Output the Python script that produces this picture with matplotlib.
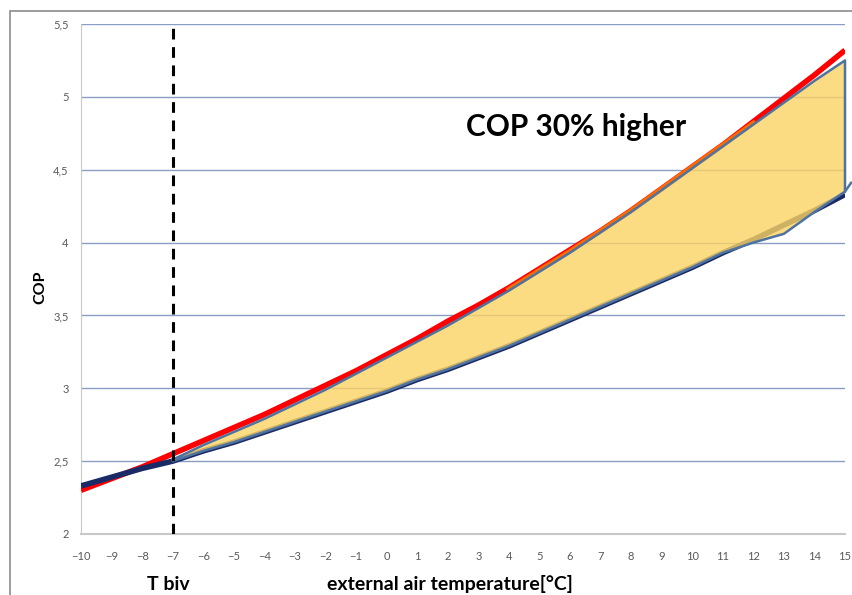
import numpy as np
import matplotlib.pyplot as plt
from matplotlib.patches import Polygon, Rectangle

# outdoor temperature (deg C) and COP curves
temps = list(range(-10, 16))
cop_red = [2.30, 2.38, 2.46, 2.55, 2.64, 2.73, 2.82, 2.92, 3.02, 3.12, 3.23, 3.34,
           3.46, 3.57, 3.69, 3.82, 3.95, 4.08, 4.22, 4.37, 4.52, 4.67, 4.83, 4.99,
           5.15, 5.32]
cop_blue = [2.33, 2.39, 2.45, 2.50, 2.57, 2.63, 2.70, 2.77, 2.84, 2.91, 2.98, 3.06,
            3.13, 3.21, 3.29, 3.38, 3.47, 3.56, 3.65, 3.74, 3.83, 3.93, 4.02, 4.12,
            4.22, 4.33]

# shaded "30% higher" area, from T biv to 15 deg C
area_temps = list(range(-7, 16))
area_top = [2.51, 2.61, 2.70, 2.79, 2.89, 2.99, 3.10, 3.21, 3.32, 3.43, 3.55, 3.67,
            3.80, 3.93, 4.07, 4.21, 4.36, 4.51, 4.66, 4.81, 4.96, 5.11, 5.25]
area_bottom = [2.50, 2.57, 2.63, 2.70, 2.77, 2.84, 2.91, 2.98, 3.06, 3.13, 3.21, 3.29,
               3.38, 3.47, 3.56, 3.65, 3.74, 3.83, 3.93, 4.00, 4.06, 4.21, 4.35]

# orange series showing between red and the shaded area
orange_temps = list(range(4, 13))
orange_cop = [3.68, 3.81, 3.94, 4.08, 4.22, 4.37, 4.52, 4.67, 4.82]

t_biv = -7
yticks = [2, 2.5, 3, 3.5, 4, 4.5, 5, 5.5]
ytick_labels = ["2", "2,5", "3", "3,5", "4", "4,5", "5", "5,5"]

plt.rcParams['font.family'] = ['Lato', 'DejaVu Sans']

fig = plt.figure(figsize=(8.53, 5.95), dpi=100)
ax = fig.add_axes([81 / 853, 1 - 534 / 595, 764 / 853, 510 / 595])

# outer chart frame
fig.patches.append(Rectangle((10 / 853, -0.1), 1.2, 1.1 - 11 / 595,
                             transform=fig.transFigure, fill=False,
                             edgecolor='#8c8c8c', linewidth=1.2))

ax.set_xlim(-10, 15)
ax.set_ylim(2, 5.5)
ax.set_yticks(yticks)
ax.set_yticklabels(ytick_labels)
ax.set_xticks(temps)
ax.tick_params(length=0, labelsize=8, labelcolor='#595959')
ax.tick_params(axis='x', pad=12)
ax.tick_params(axis='y', pad=9)
ax.grid(axis='y', color='#8a9dc4', linewidth=1)
ax.set_axisbelow(True)
for s in ['top', 'right']:
    ax.spines[s].set_visible(False)
ax.spines['left'].set_color('#c8c8c8')
ax.spines['bottom'].set_color('#c8c8c8')
ax.spines['bottom'].set_linewidth(1.5)

ax.plot(temps, cop_red, color='#ff0000', linewidth=4, solid_capstyle='butt', zorder=3)
ax.plot(temps, cop_blue, color='#1a2a66', linewidth=4, solid_capstyle='butt', zorder=3)
ax.plot(orange_temps, orange_cop, color='#ff6a00', linewidth=3.5, zorder=3)

pts = list(zip(area_temps, area_top)) + list(zip(area_temps[::-1], area_bottom[::-1]))
ax.add_patch(Polygon(pts, closed=True, facecolor='#fcd463', alpha=0.8,
                     edgecolor='none', zorder=4))
ax.add_patch(Polygon(pts, closed=True, facecolor='none', edgecolor='#4f73a0',
                     linewidth=1.8, joinstyle='round', zorder=5, clip_on=False))
ax.plot([15, 15.2], [area_bottom[-1], 4.41], color='#4f73a0', linewidth=1.8,
        zorder=5, clip_on=False)

ax.axvline(t_biv, color='black', linestyle=(0, (3.5, 2.5)), linewidth=2.2, zorder=6)

ax.text(6.2, 4.79, "COP 30% higher", fontsize=21.5, fontweight='bold',
        ha='center', va='center')

fig.text(40 / 853, 1 - 287 / 595, "COP", rotation=90, fontsize=11.5,
         fontweight='bold', ha='center', va='center')
fig.text(168 / 853, 1 - 584 / 595, "T biv", fontsize=14, fontweight='bold',
         ha='center', va='center')
fig.text(450 / 853, 1 - 584 / 595, "external air temperature[°C]", fontsize=14,
         fontweight='bold', ha='center', va='center')

fig.savefig("out.png", dpi=100)
